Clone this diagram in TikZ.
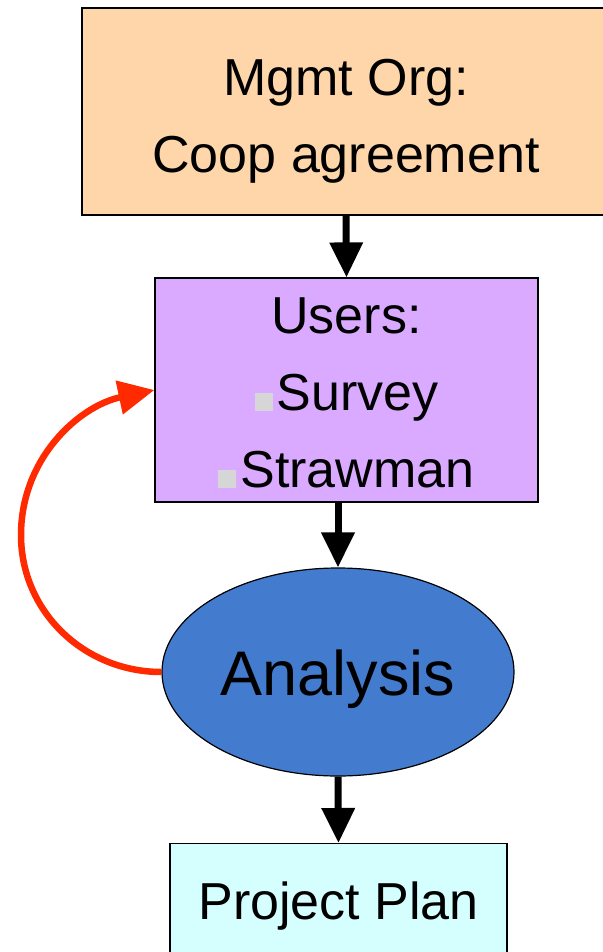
\documentclass[tikz,border=0pt]{standalone}
\usepackage{fontspec}
\setmainfont{Liberation Sans}
\usetikzlibrary{arrows.meta,shapes.geometric}
\definecolor{orgfill}{HTML}{FED6A9}
\definecolor{userfill}{HTML}{D9AAFF}
\definecolor{anafill}{HTML}{437CCF}
\definecolor{planfill}{HTML}{D5FFFF}
\definecolor{bulgray}{HTML}{D6D6D6}
\definecolor{loopred}{HTML}{FF2A00}
\newcommand\usrbullet{{\color{bulgray}\rule{18pt}{18pt}}\hspace{4pt}}
\begin{document}
\begin{tikzpicture}[x=1pt,y=1pt,
  box/.style={draw=black, line width=1.2pt, rectangle, inner sep=0pt, align=center},
  flow/.style={-{Triangle[width=32pt,length=35pt]}, line width=7pt, black},
  loopback/.style={-{Triangle[width=33pt,length=36pt]}, line width=6.5pt, loopred}]
\useasboundingbox (0,0) rectangle (602,-952);
\node[box, fill=orgfill, minimum width=528pt, minimum height=207pt,
      font=\fontsize{52}{77}\selectfont] (org) at (346,-111.5)
      {\rule{0pt}{55pt}Mgmt Org:\\Coop agreement};
\node[box, fill=userfill, minimum width=383pt, minimum height=224pt,
      font=\fontsize{52}{77}\selectfont] (users) at (346.5,-390)
      {\rule{0pt}{42pt}Users:\\\usrbullet Survey\\\usrbullet Strawman};
\node[ellipse, draw=black, line width=1.2pt, fill=anafill, minimum width=352pt,
      minimum height=208pt, inner sep=0pt, font=\fontsize{63}{75}\selectfont,
      text height=50pt, text depth=4pt] (ana) at (338,-672) {Analysis};
\node[box, fill=planfill, anchor=north, minimum width=337pt, inner ysep=36pt,
      text height=40pt, text depth=12pt, font=\fontsize{52}{62}\selectfont]
      (plan) at (338.5,-843) {Project Plan};
\draw[flow] (org.south) -- (users.north);
\draw[flow] (ana.north |- users.south) -- (ana.north);
\draw[flow] (ana.south) -- (plan.north);
\coordinate (loop) at (21,-535);
\draw[loopback] (ana.west) to[out=180,in=270] (loop) to[out=90,in=192] (users.west);
\end{tikzpicture}
\end{document}
